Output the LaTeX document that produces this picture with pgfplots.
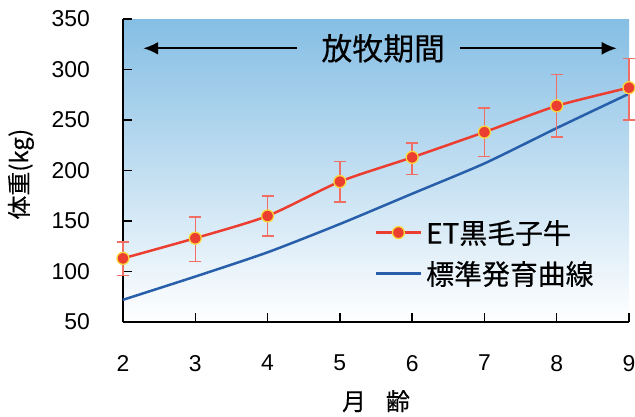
\documentclass[border=0pt]{standalone}
\usepackage{fontspec}
\setmainfont{Liberation Sans}
\newfontfamily\jp{Noto Sans CJK JP}[FakeBold=0.35]
\newcommand\jpb{\jp}
\usepackage{pgfplots}
\usepackage{pgfplotstable}
\pgfplotsset{compat=1.18}
\usetikzlibrary{arrows.meta}
\definecolor{bgtop}{RGB}{133,190,228}
\definecolor{redline}{RGB}{235,62,48}
\definecolor{errc}{RGB}{240,110,100}
\definecolor{mkyel}{RGB}{250,215,60}
\definecolor{blueline}{RGB}{40,95,170}

\pgfplotstableread{
x y ep em
2 113 16 17
3 133 21 23
4 155 20 20
5 189 20 20
6 213 14 17
7 238 24 24
8 264 31 31
9 282 29 32
}\etdata

\pgfplotstableread{
x y
2 72
3 95
4 119
5 147
6 177
7 207
8 242
9 276
}\stddata

\begin{document}
\begin{tikzpicture}
\begin{axis}[
 scale only axis, width=506bp, height=303bp,
 xmin=2, xmax=9, ymin=50, ymax=350,
 xtick={2,...,9}, ytick={50,100,...,350},
 axis x line*=bottom, axis y line*=left,
 axis line style={-, line width=1.5bp, black},
 tick align=inside, major tick length=9bp,
 tick style={line width=1.5bp, black},
 /pgf/number format/assume math mode=true,
 tick label style={font=\fontsize{23}{27}\selectfont, inner sep=0pt},
 yticklabel style={xshift=-33bp},
 xticklabel style={yshift=-33bp},
 axis background/.style={shade, top color=bgtop, bottom color=white},
 clip=false,
 xlabel={\jpb 月\hspace{20bp}齢},
 xlabel style={font=\fontsize{24}{26}\selectfont, at={(axis description cs:0.5,0)}, anchor=north, yshift=-68bp, inner sep=0pt},
 ylabel={\jpb 体重(kg)},
 ylabel style={font=\fontsize{24}{26}\selectfont, at={(axis description cs:-0.2016,0.488)}, anchor=center, inner sep=0pt},
 legend style={at={(rel axis cs:0.497,0.35)}, anchor=north west, draw=none, fill=none,
   font=\jpb\fontsize{28}{30}\selectfont, row sep=8bp, inner sep=0pt, nodes={inner sep=4bp}},
 legend cell align=left,
 reverse legend,
 legend image code/.code={\draw[mark repeat=2, mark phase=2, #1] plot coordinates {(0bp,0bp) (22.5bp,0bp) (45bp,0bp)};},
]
\addplot[blueline, line width=2.5bp, smooth, tension=0.4, mark=none] table[x=x, y=y] {\stddata};
\addlegendentry{標準発育曲線}
\addplot[redline, line width=2.5bp, smooth, tension=0.4, mark=*, mark size=6bp,
  mark options={fill=redline, draw=mkyel, line width=1.3bp},
  error bars/.cd, y dir=both, y explicit,
  error bar style={errc, line width=1.5bp},
  error mark options={rotate=90, errc, mark size=6bp, line width=1.5bp}]
  table[x=x, y=y, y error plus=ep, y error minus=em] {\etdata};
\addlegendentry{ET黒毛子牛}
\draw[line width=2bp, -{Latex[length=15bp,width=13bp]}] (axis cs:4.41,321) -- (axis cs:2.28,321);
\draw[line width=2bp, -{Latex[length=15bp,width=13bp]}] (axis cs:6.66,321) -- (axis cs:8.83,321);
\node[font=\jpb\fontsize{31}{33}\selectfont] at (axis cs:5.6,321) {放牧期間};
\end{axis}
\pgfresetboundingbox
\useasboundingbox ([xshift=-123bp,yshift=-94bp]current axis.south west) rectangle ([xshift=6bp,yshift=19bp]current axis.north east);
\end{tikzpicture}
\end{document}
